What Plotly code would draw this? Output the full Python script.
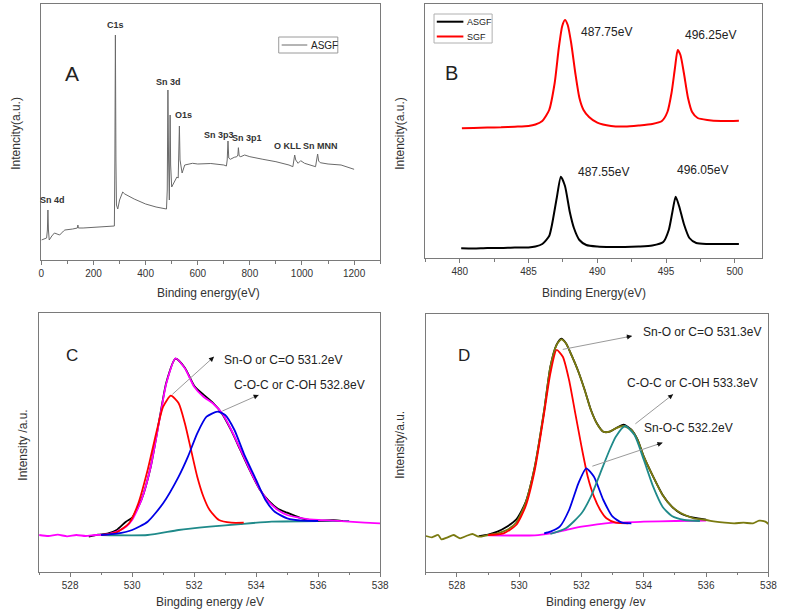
import plotly.graph_objects as go

W, H = 787, 614

# ---------------- Panel A: survey spectrum ----------------
a_energy = [0, 10, 20, 23, 25, 27, 30, 40, 50, 60, 70, 85, 90, 120, 138, 140, 142, 160, 200, 240,
            270, 280, 282, 284, 286, 288, 293, 300, 312, 320, 356, 400, 440, 480, 483, 485.5, 488,
            491, 494, 496, 500, 510, 520, 525, 527, 529.6, 532, 540, 550, 580, 600, 650, 700, 710,
            713, 716, 719, 725, 740, 750, 754, 756, 759, 765, 780, 800, 850, 900, 950, 965, 972,
            976, 985, 995, 1010, 1040, 1052, 1060, 1064, 1070, 1100, 1150, 1170, 1200]
a_asgf = [20, 21, 22, 30, 50, 30, 20, 24, 27, 26, 25, 29, 30, 31, 32, 35, 32, 32, 32.5, 33,
          33.5, 34, 100, 225, 100, 55, 51, 60, 68, 66, 61, 56, 53, 51, 70, 170, 100,
          60, 145, 95, 73, 78, 83, 82, 100, 134, 100, 87, 95, 96.7, 96, 96.5, 95, 94,
          100, 119, 102, 100.7, 102.7, 103.3, 105, 112.3, 104, 103.3, 105, 103.3, 100.7, 98.3, 95, 93.3, 105,
          100, 96.7, 99.3, 96.7, 94, 93.3, 106, 99, 97.3, 96, 95, 93.3, 90.7]
a_peak_labels = ["C1s", "Sn 3d", "O1s", "Sn 3p3", "Sn 3p1", "O KLL", "Sn MNN", "Sn 4d"]

# ---------------- Panel B: Sn 3d ----------------
b_sgf_energy = [480.15, 481, 482, 483, 484, 485, 485.5, 486, 486.5, 486.9, 487.2, 487.45, 487.65,
                487.85, 488.1, 488.4, 488.7, 489.0, 489.4, 490, 491, 492, 493, 494, 494.7, 495.1,
                495.4, 495.65, 495.85, 496.05, 496.3, 496.6, 496.9, 497.3, 498, 499, 500.3]
b_sgf = [129.7, 130, 130.5, 130.7, 131.3, 132, 133.5, 137, 148, 175, 210, 232, 238,
         233, 215, 185, 160, 148, 141, 135.3, 132, 131.5, 132.5, 134, 137, 146,
         165, 190, 208, 203, 185, 160, 146, 140, 138, 137, 137.3]
b_asgf_energy = [480.1, 481, 482, 483, 484, 485, 485.5, 486, 486.5, 486.7, 487.05, 487.35, 487.65,
                 488.0, 488.3, 488.7, 489.2, 490, 491, 492, 493, 494, 494.8, 495.2, 495.45, 495.7,
                 495.95, 496.3, 496.7, 497.2, 498, 499, 500.3]
b_asgf = [9.7, 9.5, 10, 10, 10.5, 10.5, 11.5, 14, 22, 33, 60, 81.3, 72,
          46, 30, 18, 13, 11.5, 11, 11, 11.5, 12.5, 16, 28, 45, 61.3,
          52, 34, 20, 15, 14, 14, 14]
b_peak_labels = ["487.75eV", "496.25eV", "487.55eV", "496.05eV"]
b_series_names = ["ASGF", "SGF"]

# ---------------- Panel C: O 1s of ASGF ----------------
c_raw_energy = [527.0, 527.3, 527.6, 527.9, 528.2, 528.5, 528.8, 529.2, 529.5, 529.8, 530.0, 530.3,
                530.6, 530.9, 531.1, 531.4, 531.7, 532.0, 532.3, 532.6, 532.9, 533.2, 533.5, 533.8,
                534.1, 534.4, 534.7, 535.0, 535.5, 536.0, 536.5, 537.0, 537.5, 538.0]
c_raw = [36.7, 35.7, 37, 35.4, 36.7, 35.7, 36.7, 37.4, 40, 45, 51.7, 71.7,
         105, 155, 188, 213.4, 203.4, 185, 175, 168.4, 158.4, 141.7, 121.7, 101.7,
         83.4, 70, 61.7, 56.7, 53.4, 51.7, 51, 50, 49, 48.4]
c_env_energy = [528.6, 528.9, 529.2, 529.5, 529.8, 530.0, 530.3, 530.6, 530.9, 531.1, 531.4, 531.7,
                532.0, 532.3, 532.6, 532.9, 533.2, 533.5, 533.8, 534.1, 534.4, 534.7, 535.0, 535.5,
                536.0, 536.5, 536.8]
c_env = [35, 37, 38, 41.7, 50, 54, 72, 105, 156, 189, 213, 204,
         186, 177, 169, 158, 141, 121, 101, 83, 71, 63, 59, 53,
         51, 51.5, 50.5]
c_baseline_energy = [529.0, 530.5, 531.5, 532.5, 533.5, 534.5, 536.0, 537.0]
c_baseline = [36.7, 36.7, 41.7, 45, 47.7, 50, 50.7, 50.7]
c_snO_energy = [529.0, 529.5, 529.9, 530.2, 530.5, 530.8, 531.0, 531.25, 531.5, 531.7, 531.9, 532.1,
                532.3, 532.5, 532.8, 533.2, 533.6]
c_snO = [36.7, 39.4, 48.4, 68.4, 101.7, 141.7, 165, 176, 168.4, 148.4, 121.7, 95,
         75, 61.7, 51.7, 49, 49]
c_coc_energy = [529.0, 529.5, 530.0, 530.5, 531.0, 531.5, 531.8, 532.1, 532.4, 532.75, 533.0, 533.3,
                533.6, 534.0, 534.3, 534.6, 535.0, 535.5, 536.0]
c_coc = [36.7, 38, 41.7, 50, 68.4, 95, 115, 138.4, 155, 160, 156.7, 141.7,
         118.4, 91.7, 71.7, 60, 53.4, 51, 50.7]
c_labels = ["Sn-O or C=O 531.2eV", "C-O-C or C-OH 532.8eV"]

# ---------------- Panel D: O 1s of SGF ----------------
d_raw_energy = [527.0, 527.2, 527.4, 527.5, 527.7, 527.9, 528.1, 528.3, 528.5, 528.7, 529.0, 529.3,
                529.6, 529.9, 530.2, 530.5, 530.8, 531.0, 531.2, 531.35, 531.5, 531.7, 531.9, 532.1,
                532.3, 532.5, 532.7, 532.9, 533.1, 533.35, 533.6, 533.8, 534.0, 534.3, 534.6, 534.9,
                535.2, 535.6, 536.0, 536.3, 536.6, 536.9, 537.2, 537.5, 537.7, 537.9, 538.0]
d_raw = [35.7, 34.4, 36.7, 32.4, 34.4, 36.7, 33.4, 35.7, 37.7, 35, 36.7, 38.4,
         41.7, 49, 68.4, 105, 161.7, 205, 226.7, 232.4, 228.4, 215, 200, 181.7,
         161.7, 147.7, 140, 140, 143.4, 145.7, 141.7, 131.7, 115, 95, 76.7, 65,
         58.4, 53.4, 51.7, 50, 49, 48.4, 49, 48.4, 51, 50, 47.7]
d_env_energy = [528.7, 529.0, 529.3, 529.6, 529.9, 530.2, 530.5, 530.8, 531.0, 531.2, 531.35, 531.5,
                531.7, 531.9, 532.1, 532.3, 532.5, 532.7, 532.9, 533.1, 533.35, 533.6, 533.8, 534.0,
                534.3, 534.6, 534.9, 535.2, 535.6, 536.0]
d_env = [35.5, 37, 40, 45, 52, 69, 105, 161, 205, 227, 233, 228.5,
         215, 200, 182, 162, 148, 140, 140, 143.5, 147, 142, 132, 115,
         95, 77, 65, 58, 54, 52]
d_baseline_energy = [529.0, 530.5, 531.0, 531.5, 532.0, 532.5, 533.0, 534.0, 535.0, 536.0]
d_baseline = [36.4, 36.4, 38.4, 41.7, 45, 47.4, 49, 50, 50.7, 51]
d_snO_energy = [529.0, 529.5, 529.9, 530.2, 530.5, 530.8, 531.0, 531.2, 531.4, 531.6, 531.8, 532.0,
                532.2, 532.4, 532.6, 532.8, 533.1, 533.5]
d_snO = [36.7, 38.4, 46.7, 65, 101.7, 158.4, 198.4, 221.7, 215, 191.7, 158.4, 125,
         95, 75, 61.7, 53.4, 49, 48.4]
d_snOC_energy = [530.8, 531.0, 531.3, 531.6, 531.9, 532.15, 532.4, 532.7, 533.0, 533.3, 533.6]
d_snOC = [38.4, 40, 45, 61.7, 88.4, 103.4, 95, 71.7, 55, 49, 48.4]
d_coc_energy = [531.0, 531.5, 532.0, 532.3, 532.6, 532.9, 533.1, 533.4, 533.7, 534.0, 534.3, 534.6,
                534.9, 535.3, 535.8]
d_coc = [37.7, 43.4, 58.4, 75, 98.4, 121.7, 135, 145.7, 136.7, 111.7, 85, 65,
         55.7, 51.7, 50.7]
d_labels = ["Sn-O or C=O 531.3eV", "C-O-C or C-OH 533.3eV", "Sn-O-C 532.2eV"]

FONT = "Liberation Sans, Arial, sans-serif"
FRAME = "#7a7a7a"
A_COLOR = "#6a6a6a"
B_COLORS = ["black", "#ff0000"]


def px(x):
    return x / W


def py(y):
    return 1 - y / H


fig = go.Figure()

# Panel A
fig.add_trace(go.Scatter(x=a_energy, y=a_asgf, mode="lines", name="ASGF", showlegend=False,
                         line=dict(color=A_COLOR, width=1), xaxis="x", yaxis="y"))
# Panel B
for xs, ys, nm, col in [(b_asgf_energy, b_asgf, b_series_names[0], B_COLORS[0]),
                        (b_sgf_energy, b_sgf, b_series_names[1], B_COLORS[1])]:
    fig.add_trace(go.Scatter(x=xs, y=ys, mode="lines", name=nm, showlegend=False,
                             line=dict(color=col, width=2, shape="spline", smoothing=0.6),
                             xaxis="x2", yaxis="y2"))
# Panel C
for xs, ys, col in [(c_baseline_energy, c_baseline, "#1f8a8a"),
                    (c_env_energy, c_env, "black"),
                    (c_raw_energy, c_raw, "#ff00ff"),
                    (c_snO_energy, c_snO, "#ff0000"),
                    (c_coc_energy, c_coc, "#0000e6")]:
    fig.add_trace(go.Scatter(x=xs, y=ys, mode="lines", showlegend=False,
                             line=dict(color=col, width=1.8, shape="spline", smoothing=0.6),
                             xaxis="x3", yaxis="y3"))
# Panel D
for xs, ys, col in [(d_baseline_energy, d_baseline, "#ff00ff"),
                    (d_env_energy, d_env, "black"),
                    (d_raw_energy, d_raw, "#7a7a10"),
                    (d_snO_energy, d_snO, "#ff0000"),
                    (d_snOC_energy, d_snOC, "#0000e6"),
                    (d_coc_energy, d_coc, "#1f8a8a")]:
    fig.add_trace(go.Scatter(x=xs, y=ys, mode="lines", showlegend=False,
                             line=dict(color=col, width=1.8, shape="spline", smoothing=0.6),
                             xaxis="x4", yaxis="y4"))


def xaxis(dom, rng, tick0, dtick, mdtick, anchor):
    return dict(domain=dom, range=rng, anchor=anchor, showline=True, mirror=True,
                linecolor=FRAME, linewidth=1, ticks="outside", ticklen=4, tickcolor=FRAME,
                tick0=tick0, dtick=dtick, showgrid=False, zeroline=False,
                tickfont=dict(family=FONT, size=10, color="#333"),
                minor=dict(ticks="outside", ticklen=2.5, tickcolor=FRAME, dtick=mdtick,
                           tick0=tick0, showgrid=False))


def yaxis(dom, rng, anchor):
    return dict(domain=dom, range=rng, anchor=anchor, showline=True, mirror=True,
                linecolor=FRAME, linewidth=1, ticks="", showticklabels=False,
                showgrid=False, zeroline=False)


shapes = []
ann = []


def text(t, x, y, size=12, bold=False, color="#222", angle=0, xanchor="center"):
    ann.append(dict(text=f"<b>{t}</b>" if bold else t, x=px(x), y=py(y), xref="paper", yref="paper",
                    showarrow=False, textangle=angle,
                    font=dict(family=FONT, size=size, color=color), xanchor=xanchor, yanchor="middle"))


def legend_box(x0, y0, x1, y1, border):
    shapes.append(dict(type="rect", xref="paper", yref="paper", x0=px(x0), x1=px(x1),
                       y0=py(y1), y1=py(y0), line=dict(color=border, width=1), fillcolor="white",
                       layer="above"))


def legend_entry(x0, x1, y, col, width, label, size):
    shapes.append(dict(type="line", xref="paper", yref="paper", x0=px(x0), x1=px(x1),
                       y0=py(y), y1=py(y), line=dict(color=col, width=width), layer="above"))
    text(label, x1 + 1.5, y, size, xanchor="left")


# Legends (drawn as boxed keys, like the original figure)
legend_box(280, 37, 340, 53, "#9a9a9a")
legend_entry(283, 309, 45, A_COLOR, 1, "ASGF", 10)
legend_box(437.7, 14, 496.7, 43, "#b0b0b0")
legend_entry(440.5, 467.5, 21.7, B_COLORS[0], 2, b_series_names[0], 9)
legend_entry(440.5, 467.5, 36.5, B_COLORS[1], 2, b_series_names[1], 9)

fig.update_layout(
    width=W, height=H, margin=dict(l=0, r=0, t=0, b=0),
    paper_bgcolor="white", plot_bgcolor="white", showlegend=False,
    font=dict(family=FONT, color="#222"),
    xaxis=xaxis([px(39), px(383)], [0, 1300], 0, 200, 100, "y"),
    yaxis=yaxis([py(260), py(4)], [0, 256], "x"),
    xaxis2=xaxis([px(429), px(771)], [477.5, 502], 480, 5, 2.5, "y2"),
    yaxis2=yaxis([py(258), py(4)], [0, 254], "x2"),
    xaxis3=xaxis([px(36.7), px(383)], [527, 538], 528, 2, 1, "y3"),
    yaxis3=yaxis([py(571.7), py(313)], [0, 258.7], "x3"),
    xaxis4=xaxis([px(429.3), px(777.3)], [527, 538], 528, 2, 1, "y4"),
    yaxis4=yaxis([py(571.7), py(314)], [0, 257.7], "x4"),
)

# Panel letters
text("A", 70, 73, 21)
text("B", 455, 73, 20)
text("C", 70, 355, 17)
text("D", 468, 355, 17)

# Axis titles
text("Binding energy(eV)", 209, 293, 12, color="#333")
text("Binding Energy(eV)", 600, 293, 12, color="#333")
text("Bingding energy /eV", 210, 602, 12, color="#333")
text("Binding energy /ev", 602, 602, 12, color="#333")
text("Intencity(a.u.)", 13, 133, 12, color="#333", angle=-90)
text("Intencity(a.u.)", 403, 133, 12, color="#333", angle=-90)
text("Intensity /a.u.", 20, 445, 12, color="#333", angle=-90)
text("Intensity/a.u.", 403, 445, 12, color="#333", angle=-90)

# Panel A peak labels
a_label_pos = [(114, 25), (168, 82), (183, 115), (219, 135), (248, 138), (289, 146), (322, 146), (50, 200)]
for lab, (x, y) in zip(a_peak_labels, a_label_pos):
    text(lab, x, y, 9, bold=True, color="#333")

# Panel B labels
b_label_pos = [(613, 32), (718, 35), (610, 172), (710, 170)]
for lab, (x, y) in zip(b_peak_labels, b_label_pos):
    text(lab, x, y, 12)

# Panel C labels
c_label_pos = [(284, 360), (301, 385)]
for lab, (x, y) in zip(c_labels, c_label_pos):
    text(lab, x, y, 12)

# Panel D labels
d_label_pos = [(710, 332), (700, 383), (696, 428)]
for lab, (x, y) in zip(d_labels, d_label_pos):
    text(lab, x, y, 12)


def arrow(xa, ya, xh, yh, ax_id):
    ann.append(dict(x=xh, y=yh, ax=xa, ay=ya, xref=f"x{ax_id}", yref=f"y{ax_id}",
                    axref=f"x{ax_id}", ayref=f"y{ax_id}", showarrow=True, arrowhead=0,
                    arrowwidth=1, arrowcolor="#9a9a9a", text=""))
    fx = xa + (xh - xa) * 0.9
    fy = ya + (yh - ya) * 0.9
    ann.append(dict(x=xh, y=yh, ax=fx, ay=fy, xref=f"x{ax_id}", yref=f"y{ax_id}",
                    axref=f"x{ax_id}", ayref=f"y{ax_id}", showarrow=True, arrowhead=2,
                    arrowsize=1, arrowwidth=1, arrowcolor="#111", text=""))


arrow(531.25, 176, 532.64, 215, 3)
arrow(532.86, 160, 534.08, 176.7, 3)
arrow(531.35, 222, 533.62, 235.7, 4)
arrow(533.68, 146.7, 534.94, 177.4, 4)
arrow(532.3, 105, 534.6, 129, 4)

fig.update_layout(annotations=ann, shapes=shapes)
# remove the browser's default page margin and scrollbars so the figure fills the window exactly
fig.write_html(
    "out.html",
    config={"displayModeBar": False},
    post_script=("document.documentElement.style.margin='0';"
                 "document.body.style.margin='0';"
                 "document.documentElement.style.overflow='hidden';"
                 "document.body.style.overflow='hidden';"),
)
